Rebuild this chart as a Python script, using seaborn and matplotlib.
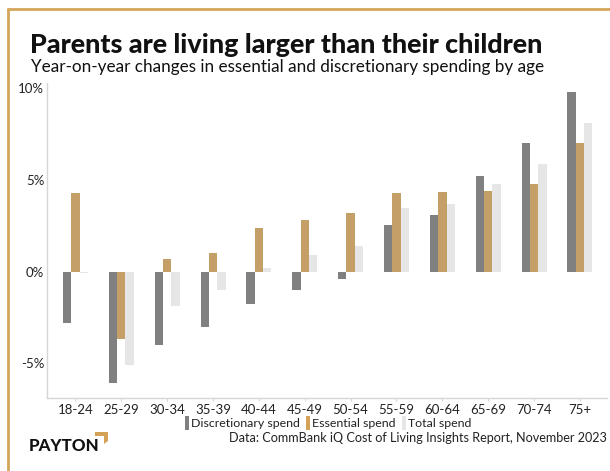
import numpy as np
import pandas as pd
import matplotlib
matplotlib.use("Agg")
import matplotlib.pyplot as plt
from matplotlib.patches import Rectangle, Polygon
from matplotlib.lines import Line2D
import seaborn as sns

age_groups = ["18-24", "25-29", "30-34", "35-39", "40-44", "45-49",
              "50-54", "55-59", "60-64", "65-69", "70-74", "75+"]
discretionary = [-2.8, -6.1, -4.0, -3.0, -1.75, -1.0, -0.4, 2.55, 3.1, 5.2, 7.0, 9.8]
essential = [4.3, -3.7, 0.7, 1.0, 2.4, 2.8, 3.2, 4.3, 4.35, 4.4, 4.8, 7.0]
total = [-0.1, -5.1, -1.9, -1.0, 0.2, 0.9, 1.4, 3.5, 3.7, 4.8, 5.9, 8.1]
series_names = ["Discretionary spend", "Essential spend", "Total spend"]
series_colors = ["#808080", "#D4A257", "#E6E6E6"]
y_ticks = [-5, 0, 5, 10]

df = pd.DataFrame({
    "age": age_groups * 3,
    "change": discretionary + essential + total,
    "series": [s for s in series_names for _ in age_groups],
})

sns.set_theme(style="white")
plt.rcParams["font.family"] = ["Lato", "DejaVu Sans"]

fig = plt.figure(figsize=(6.1, 4.71), dpi=100)
ax = fig.add_axes([47 / 610, 1 - 398 / 471, 560 / 610, 315 / 471])

sns.barplot(data=df, x="age", y="change", hue="series", order=age_groups,
            hue_order=series_names, palette=series_colors, width=0.545,
            linewidth=0, ax=ax, legend=False)

ax.set_xlim(-0.62, 11.59)
ax.set_ylim(-6.9, 10.3)
ax.set_yticks(y_ticks)
ax.set_yticklabels([f"{v}%" for v in y_ticks])
ax.set_xlabel("")
ax.set_ylabel("")
for side in ["top", "right"]:
    ax.spines[side].set_visible(False)
for side in ["left", "bottom"]:
    ax.spines[side].set_color("#D6D6D6")
    ax.spines[side].set_linewidth(1.0)
ax.tick_params(axis="y", length=0, pad=2, labelsize=9.5, labelcolor="#222222")
ax.tick_params(axis="x", length=2.5, width=0.8, color="#D6D6D6", pad=2,
               labelsize=9.5, labelcolor="#222222", bottom=True)

px = lambda x: x / 610
py = lambda y: 1 - y / 471

# Title block
fig.text(px(30), py(53), "Parents are living larger than their children",
         fontsize=19.4, fontweight="black", color="#111111", va="baseline", ha="left")
fig.text(px(31), py(72),
         "Year-on-year changes in essential and discretionary spending by age",
         fontsize=12.3, color="#111111", va="baseline", ha="left")

# Legend with slim bar swatches
handles = [Rectangle((0, 0), 1, 1, facecolor=c, edgecolor="none") for c in series_colors]
fig.legend(handles, series_names, loc="center left",
           bbox_to_anchor=(px(185), py(423)), ncol=3, frameon=False,
           handlelength=0.3, handleheight=1.25, handletextpad=0.2,
           columnspacing=0.5, borderpad=0, borderaxespad=0, fontsize=8.9,
           labelcolor="#222222")

fig.text(px(607), py(438),
         "Data: CommBank iQ Cost of Living Insights Report, November 2023",
         fontsize=9.1, color="#222222", ha="right", va="center")

# Brand mark
fig.text(px(29), py(446), "PAYTON", fontsize=12.2, fontweight="black",
         color="#111111", ha="left", va="center")
fig.patches.append(Polygon([(px(95), py(432)), (px(108), py(432)), (px(108), py(441)),
                            (px(104), py(444)), (px(104), py(436)), (px(95), py(436))],
                           closed=True, facecolor="#D4A257", edgecolor="none",
                           transform=fig.transFigure, figure=fig))

# Frame accent along top and left edges
frame = "#D4A55A"
fig.add_artist(Line2D([px(8), px(610)], [py(9), py(9)], color=frame, linewidth=2,
                      transform=fig.transFigure))
fig.add_artist(Line2D([px(8), px(8)], [py(9), 0], color=frame, linewidth=2,
                      transform=fig.transFigure))

fig.savefig("out.png", dpi=100, facecolor="white")
